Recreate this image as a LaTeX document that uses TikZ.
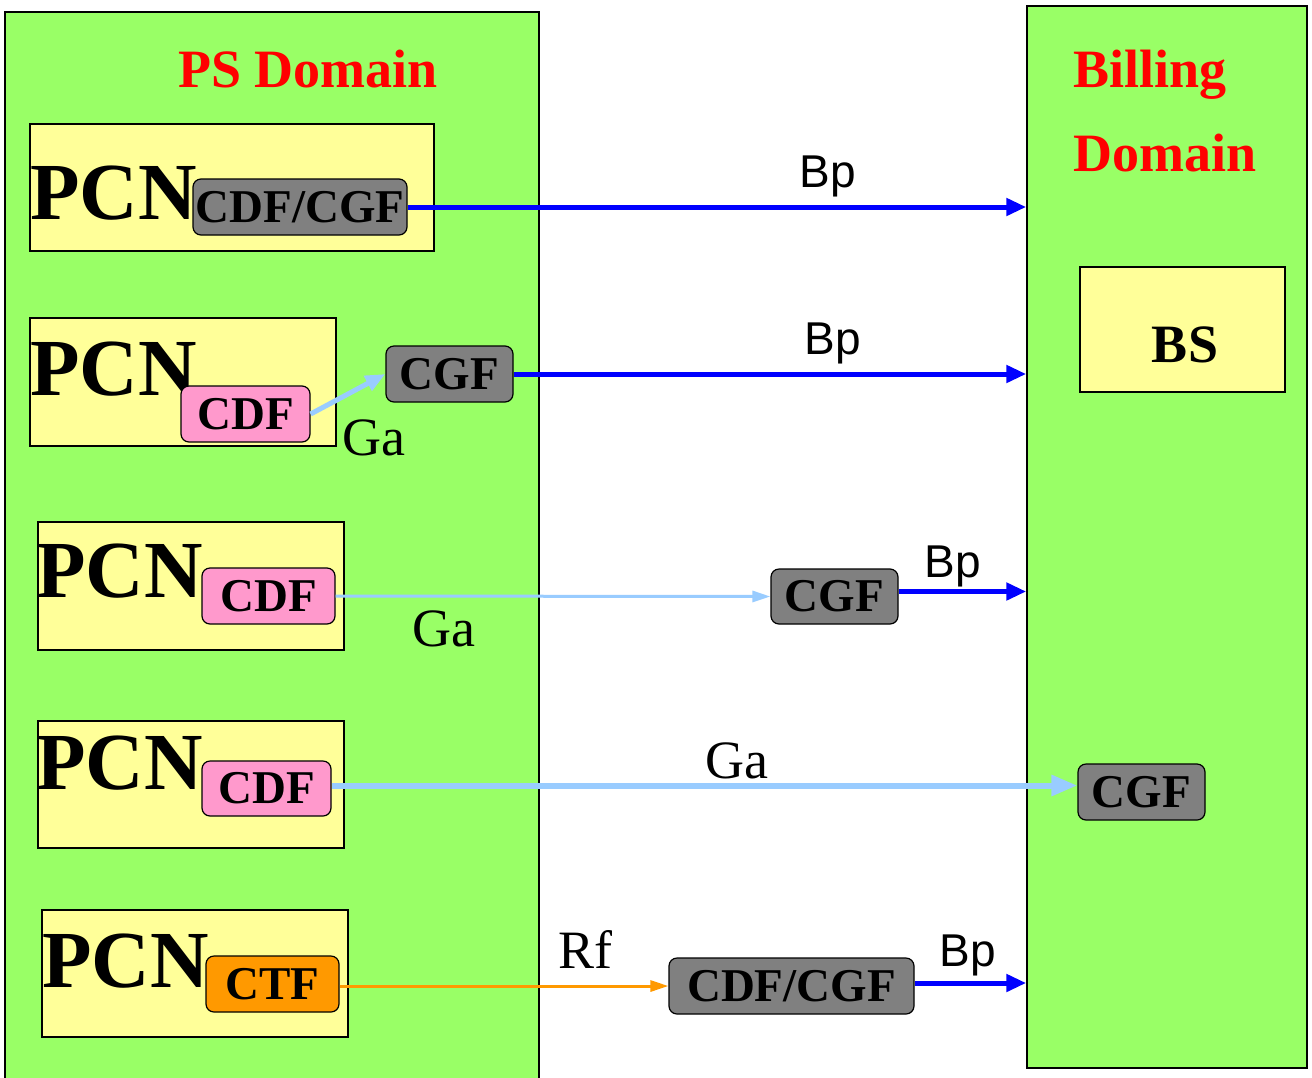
\documentclass[tikz,border=0pt]{standalone}
\usepackage{fontspec}
\setmainfont{Liberation Serif}
\newfontfamily\arialf{Liberation Sans}
\usetikzlibrary{arrows.meta}
\definecolor{dgreen}{HTML}{99FF66}
\definecolor{dyellow}{HTML}{FFFF99}
\definecolor{dpink}{HTML}{FF99CC}
\definecolor{dgray}{HTML}{808080}
\definecolor{dorange}{HTML}{FF9900}
\definecolor{lblue}{HTML}{99CCFF}
\definecolor{dblue}{HTML}{0000FF}
\tikzset{
  domainbox/.style={draw=black, line width=1.5pt, fill=dgreen, inner sep=0pt},
  ybox/.style={draw=black, line width=1.5pt, fill=dyellow, inner sep=0pt},
  fnbox/.style={draw=black, line width=1.2pt, rounded corners=8pt, inner sep=0pt,
     font=\fontsize{47}{47}\selectfont\bfseries},
  graybox/.style={fnbox, fill=dgray},
  pinkbox/.style={fnbox, fill=dpink},
  orangebox/.style={fnbox, fill=dorange},
  pcn/.style={anchor=base west, inner sep=0pt, font=\fontsize{81}{81}\selectfont\bfseries},
  dtitle/.style={inner sep=0pt, text=red, font=\fontsize{54}{54}\selectfont\bfseries},
  bplab/.style={anchor=base, inner sep=0pt, font=\arialf\fontsize{46}{46}\selectfont},
  galab/.style={anchor=base, inner sep=0pt, font=\fontsize{54}{54}\selectfont},
  bparrow/.style={draw=dblue, line width=5pt, -{Triangle[length=20pt,width=17pt]}},
  gaarrow/.style={draw=lblue, line width=5pt, -{Triangle[length=20pt,width=16pt]}},
  gathin/.style={draw=lblue, line width=3pt, -{Triangle[length=18pt,width=11pt]}},
  gathick/.style={draw=lblue, line width=6pt, -{Triangle[length=26pt,width=20pt]}},
  rfarrow/.style={draw=dorange, line width=3pt, -{Triangle[length=18pt,width=11pt]}},
}
\begin{document}
\begin{tikzpicture}[x=1pt,y=-1pt]
\useasboundingbox (0,0) rectangle (1312,1077);
\fill[white] (0,0) rectangle (1312,1077);
% domains
\node[domainbox, minimum width=534pt, minimum height=1070pt] (ps) at (272,547) {};
\node[domainbox, minimum width=280pt, minimum height=1062pt] (bill) at (1167,537) {};
\node[dtitle, anchor=base] (pst) at (308,87) {PS Domain};
\node[dtitle, anchor=base west] (bt1) at (1073,87) {Billing};
\node[dtitle, anchor=base west] (bt2) at (1073,171) {Domain};
% BS
\node[ybox, minimum width=205pt, minimum height=125pt] (bs) at (1182.5,329.5) {};
\node[anchor=base, inner sep=0pt, font=\fontsize{54}{54}\selectfont\bfseries] (bst) at (1185,362) {BS};
% yellow PCN boxes
\node[ybox, minimum width=404pt, minimum height=127pt] (y1) at (232,187.5) {};
\node[ybox, minimum width=306pt, minimum height=128pt] (y2) at (183,382) {};
\node[ybox, minimum width=306pt, minimum height=128pt] (y3) at (191,586) {};
\node[ybox, minimum width=306pt, minimum height=127pt] (y4) at (191,784.5) {};
\node[ybox, minimum width=306pt, minimum height=127pt] (y5) at (195,973.5) {};
\node[pcn] (pcn1) at (30,219) {PCN};
\node[pcn] (pcn2) at (30,395) {PCN};
\node[pcn] (pcn3) at (36,597) {PCN};
\node[pcn] (pcn4) at (36,789) {PCN};
\node[pcn] (pcn5) at (42,987) {PCN};
% function boxes
\node[graybox, minimum width=214pt, minimum height=56pt] (g1) at (300,207) {CDF/CGF};
\node[pinkbox, minimum width=129pt, minimum height=56pt] (p2) at (245.5,414) {CDF};
\node[graybox, minimum width=127pt, minimum height=56pt] (c2) at (449.5,374) {CGF};
\node[pinkbox, minimum width=133pt, minimum height=56pt] (p3) at (268.5,596) {CDF};
\node[graybox, minimum width=127pt, minimum height=55pt] (c3) at (834.5,596.5) {CGF};
\node[pinkbox, minimum width=129pt, minimum height=55pt] (p4) at (266.5,788.5) {CDF};
\node[graybox, minimum width=127pt, minimum height=56pt] (c4) at (1141.5,792) {CGF};
\node[orangebox, minimum width=133pt, minimum height=56pt] (t5) at (272.5,984) {CTF};
\node[graybox, minimum width=245pt, minimum height=56pt] (g5) at (791.5,986) {CDF/CGF};
% connectors
\draw[bparrow] (g1.east) -- (g1.east -| bill.west);
\draw[gaarrow] (p2.east) -- (c2.west);
\draw[bparrow] (c2.east) -- (c2.east -| bill.west);
\draw[gathin] (p3.east) -- (c3.west);
\draw[bparrow] ([yshift=5pt]c3.east) -- ([yshift=5pt]c3.east -| bill.west);
\draw[gathick] ([yshift=3pt]p4.east) -- ([yshift=3pt]p4.east -| c4.west);
\draw[rfarrow] (t5.east |- g5.west) -- (g5.west);
\draw[bparrow] ([yshift=3pt]g5.east) -- ([yshift=3pt]g5.east -| bill.west);
% labels
\node[bplab] (bp1) at (828,187) {Bp};
\node[bplab] (bp2) at (833,354) {Bp};
\node[bplab] (bp3) at (953,577) {Bp};
\node[bplab] (bp5) at (968,966) {Bp};
\node[galab] (ga2) at (374,455) {Ga};
\node[galab] (ga3) at (444,646) {Ga};
\node[galab] (ga4) at (737,778) {Ga};
\node[galab] (rf5) at (585,968) {Rf};
\end{tikzpicture}
\end{document}
